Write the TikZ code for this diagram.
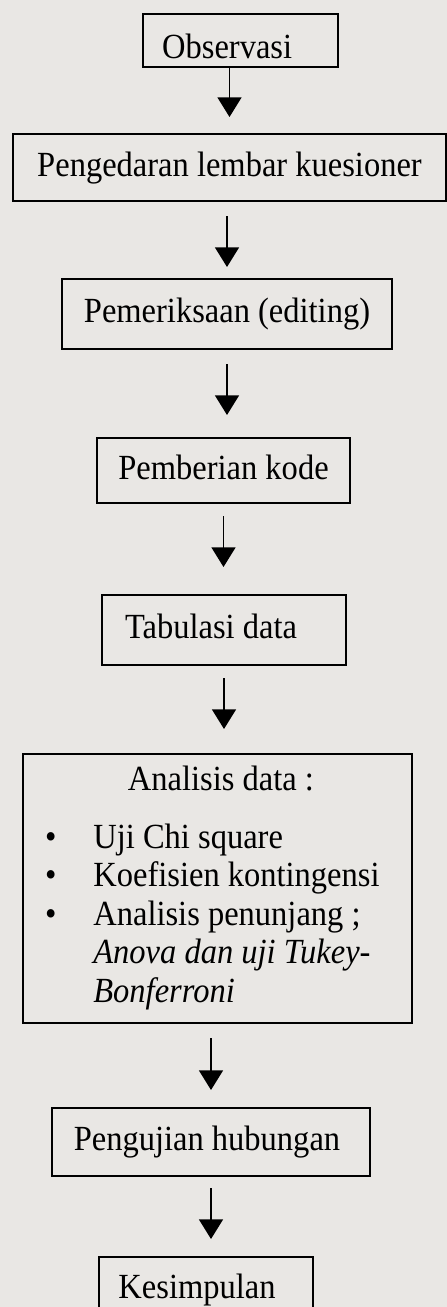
\documentclass[tikz,border=0pt]{standalone}
\usepackage{fontspec}
\setmainfont{Liberation Serif}[FakeStretch=0.92]
\usetikzlibrary{arrows.meta}

\definecolor{paper}{RGB}{233,231,228}

\tikzset{
  box/.style={draw, line width=0.6pt, inner sep=0pt, text height=7.4pt, text depth=2.3pt},
  listbox/.style={draw, line width=0.6pt, inner xsep=6.6pt, inner ysep=0pt},
  flow/.style={draw, line width=0.45pt, -{Triangle[length=5.9pt,width=7.2pt]}}
}

\begin{document}
\begin{tikzpicture}[x=0.3pt, y=-0.3pt, font=\fontsize{10.6}{11.55}\selectfont]

\fill[paper] (0,0) rectangle (447,1307);
\useasboundingbox (0,0) rectangle (447,1307);

% tahapan
\node[box, text height=13pt, minimum width=58.5pt, minimum height=15.9pt] (obs) at (240.5,40.5) {Observasi\kern8pt};
\node[box, minimum width=129.9pt, minimum height=20.1pt] (peng) at (229.5,167.5) {Pengedaran lembar kuesioner};
\node[box, minimum width=99pt, minimum height=21pt] (pem) at (227,314) {Pemeriksaan (editing)};
\node[box, minimum width=75.9pt, minimum height=19.5pt] (kode) at (223.5,470.5) {Pemberian kode};
\node[box, minimum width=73.2pt, minimum height=21pt] (tab) at (224,630) {Tabulasi data\kern7.8pt};
\node[listbox, text width=103.5pt, minimum width=116.7pt, minimum height=80.7pt] (ana) at (217.5,888.5)
  {\noindent\spaceskip=0pt \xspaceskip=0pt
   \begin{tabular}{@{}l@{\hspace{11.1pt}}l@{}}
   \multicolumn{2}{@{}l@{}}{\hspace{24.9pt}Analisis data :}\\[5.85pt]
   \textbullet & Uji Chi square\\
   \textbullet & Koefisien kontingensi\\
   \textbullet & Analisis penunjang ;\\
   & \textit{Anova dan uji Tukey-}\\
   & \textit{Bonferroni}
   \end{tabular}};
\node[box, minimum width=95.4pt, minimum height=20.4pt] (uji) at (211,1142) {Pengujian hubungan\kern2.4pt};
\node[box, minimum width=64.2pt, minimum height=19.5pt] (kes) at (206,1289.5) {Kesimpulan\kern5.4pt};

% panah
\draw[flow, shorten >=4.8pt] (peng.north |- obs.south) -- (peng.north);
\draw[flow, shorten <=4.2pt, shorten >=3.3pt] (peng.south -| pem.north) -- (pem.north);
\draw[flow, shorten <=4.2pt, shorten >=6.6pt] (pem.south) -- (pem.south |- kode.north);
\draw[flow, shorten <=3.6pt, shorten >=8.1pt] (kode.south) -- (kode.south |- tab.north);
\draw[flow, shorten <=3.6pt, shorten >=7.2pt] (tab.south) -- (tab.south |- ana.north);
\draw[flow, shorten <=4.2pt, shorten >=5.1pt] (uji.north |- ana.south) -- (uji.north);
\draw[flow, shorten <=3.3pt, shorten >=5.1pt] (uji.south) -- (uji.south |- kes.north);

\end{tikzpicture}
\end{document}
